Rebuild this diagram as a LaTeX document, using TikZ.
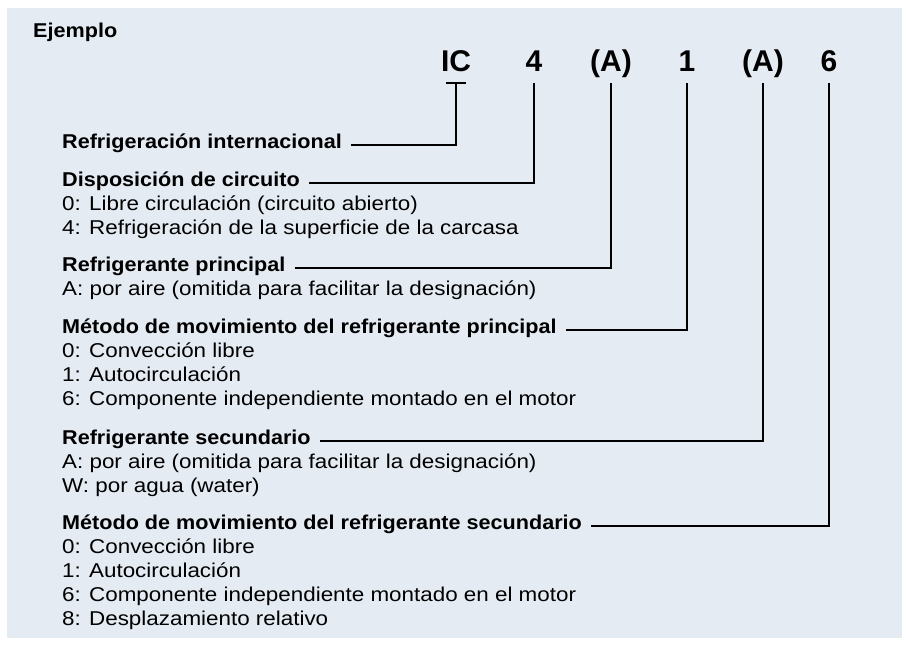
\documentclass[tikz,border=0pt]{standalone}
\usepackage{fontspec}
\setmainfont{Liberation Sans}[FakeStretch=1.12,BoldFeatures={FakeStretch=1.08}]
\newfontfamily\codefont{Liberation Sans}
\definecolor{panel}{RGB}{228,235,243}
\tikzset{
  head/.style={font=\bfseries\fontsize{20}{24}\selectfont, anchor=base west, inner sep=0pt},
  item/.style={font=\fontsize{20}{24}\selectfont, anchor=base west, inner sep=0pt},
  code/.style={font=\codefont\bfseries\fontsize{30}{34}\selectfont, anchor=base, inner sep=0pt},
  lead/.style={line width=2pt}
}
\begin{document}
\begin{tikzpicture}[x=1pt,y=-1pt]
      \useasboundingbox (0,0) rectangle (906,646);
      \fill[panel] (7,8) rectangle (902,638);
      \node[head] (ejemplo) at (33,37) {Ejemplo};
      \draw
        (456,71) node[code] (ic){IC}
        (534,71) node[code] (dis){4}
        (611,71) node[code] (refp){(A)}
        (687,71) node[code] (movp){1}
        (763,71) node[code] (refs){(A)}
        (829,71) node[code] (movs){6};
      \node[head] (hic) at (62,148) {Refrigeración internacional};
      \node[head] (hdis) at (62,186) {Disposición de circuito};
      \node[item] (dis0) at (62,210) {0: Libre circulación (circuito abierto)};
      \node[item] (dis4) at (62,234) {4: Refrigeración de la superficie de la carcasa};
      \node[head] (hrefp) at (62,271) {Refrigerante principal};
      \node[item] (refpa) at (62,295) {A: por aire (omitida para facilitar la designación)};
      \node[head] (hmovp) at (62,333) {Método de movimiento del refrigerante principal};
      \node[item] (movp0) at (62,357) {0: Convección libre};
      \node[item] (movp1) at (62,381) {1: Autocirculación};
      \node[item] (movp6) at (62,405) {6: Componente independiente montado en el motor};
      \node[head] (hrefs) at (62,444) {Refrigerante secundario};
      \node[item] (refsa) at (62,468) {A: por aire (omitida para facilitar la designación)};
      \node[item] (refsw) at (62,492) {W: por agua (water)};
      \node[head] (hmovs) at (62,529) {Método de movimiento del refrigerante secundario};
      \node[item] (movs0) at (62,553) {0: Convección libre};
      \node[item] (movs1) at (62,577) {1: Autocirculación};
      \node[item] (movs6) at (62,601) {6: Componente independiente montado en el motor};
      \node[item] (movs8) at (62,625) {8: Desplazamiento relativo};
      \begin{scope}[lead]
        \draw ([xshift=-10pt,yshift=-12pt]ic.base) -- ([xshift=10pt,yshift=-12pt]ic.base);
        \draw ([xshift=9pt]hic.mid east) -| ([yshift=-12pt]ic.base);
        \draw ([xshift=9pt]hdis.mid east) -| ([yshift=-12pt]dis.base);
        \draw ([xshift=9pt]hrefp.mid east) -| ([yshift=-12pt]refp.base);
        \draw ([xshift=9pt]hmovp.mid east) -| ([yshift=-12pt]movp.base);
        \draw ([xshift=9pt]hrefs.mid east) -| ([yshift=-12pt]refs.base);
        \draw ([xshift=9pt]hmovs.mid east) -| ([yshift=-12pt]movs.base);
      \end{scope}
    \end{tikzpicture}
\end{document}
